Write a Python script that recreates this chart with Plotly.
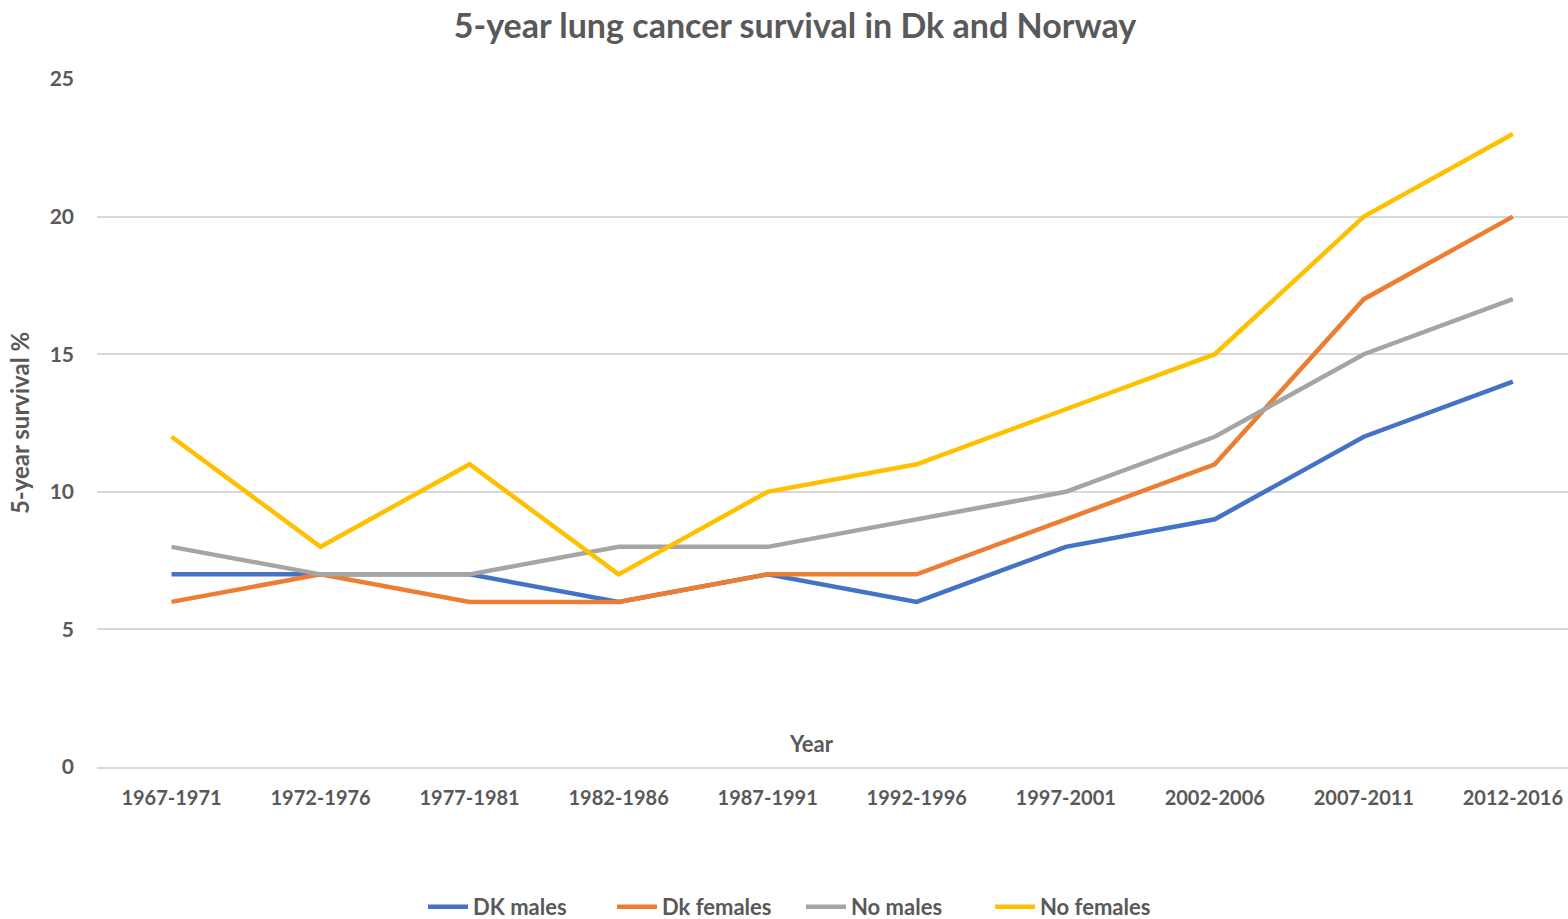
import plotly.graph_objects as go

periods = ['1967-1971', '1972-1976', '1977-1981', '1982-1986', '1987-1991',
           '1992-1996', '1997-2001', '2002-2006', '2007-2011', '2012-2016']

dk_males = [7, 7, 7, 6, 7, 6, 8, 9, 12, 14]
dk_females = [6, 7, 6, 6, 7, 7, 9, 11, 17, 20]
no_males = [8, 7, 7, 8, 8, 9, 10, 12, 15, 17]
no_females = [12, 8, 11, 7, 10, 11, 13, 15, 20, 23]

series = [
    ('DK males', dk_males, '#4472C4'),
    ('Dk females', dk_females, '#ED7D31'),
    ('No males', no_males, '#A5A5A5'),
    ('No females', no_females, '#FFC000'),
]

FONT = 'Lato'
GREY = '#595959'

# the page body margin is removed below, so the figure fills the window
W, H = 1568, 919
L, T, B = 97, 79, 152
PW, PH = W - L, H - T - B

fig = go.Figure()
for name, vals, color in series:
    fig.add_trace(go.Scatter(
        x=periods,
        y=vals,
        mode='lines',
        name=name,
        line=dict(color=color, width=4.5),
    ))

fig.update_layout(
    width=W,
    height=H,
    plot_bgcolor='white',
    paper_bgcolor='white',
    margin=dict(l=L, r=0, t=T, b=B, autoexpand=False),
    font=dict(family=FONT, color=GREY),
    title=dict(
        text='<b>5-year lung cancer survival in Dk and Norway</b>',
        x=795 / W, xanchor='center', xref='container',
        y=1 - 26 / H, yanchor='middle', yref='container',
        font=dict(size=34, color=GREY, family=FONT),
    ),
    xaxis=dict(
        type='category',
        range=[-0.5, 9.37],
        automargin=False,
        showgrid=False,
        showline=True,
        linecolor='#D9D9D9',
        linewidth=1.5,
        ticks='',
        tickfont=dict(size=20, color=GREY, family=FONT, weight='bold'),
        ticklabelstandoff=12,
    ),
    yaxis=dict(
        range=[0, 25],
        dtick=5,
        automargin=False,
        showgrid=True,
        gridcolor='#D9D9D9',
        gridwidth=1.5,
        zeroline=False,
        ticks='',
        tickfont=dict(size=21, color=GREY, family=FONT, weight='bold'),
        ticklabelstandoff=22,
        title=dict(text='<b>5-year survival %</b>', font=dict(size=24, color=GREY, family=FONT), standoff=13),
    ),
    legend=dict(
        orientation='h',
        x=(423 - 97) / PW, xanchor='left',
        y=-(907 - 767) / PH, yanchor='middle',
        font=dict(size=22, color=GREY, family=FONT, weight='bold'),
        entrywidth=134,
        entrywidthmode='pixels',
        itemwidth=40,
        tracegroupgap=0,
    ),
    showlegend=True,
)

fig.add_annotation(
    text='<b>Year</b>',
    xref='paper', yref='paper',
    x=(811 - 97) / PW, y=(767 - 743) / PH,
    xanchor='center', yanchor='middle',
    showarrow=False,
    font=dict(size=22, color=GREY, family=FONT),
)

fig.write_html(
    "out.html",
    config={'displayModeBar': False},
    post_script="document.body.style.margin = '0';",
)
